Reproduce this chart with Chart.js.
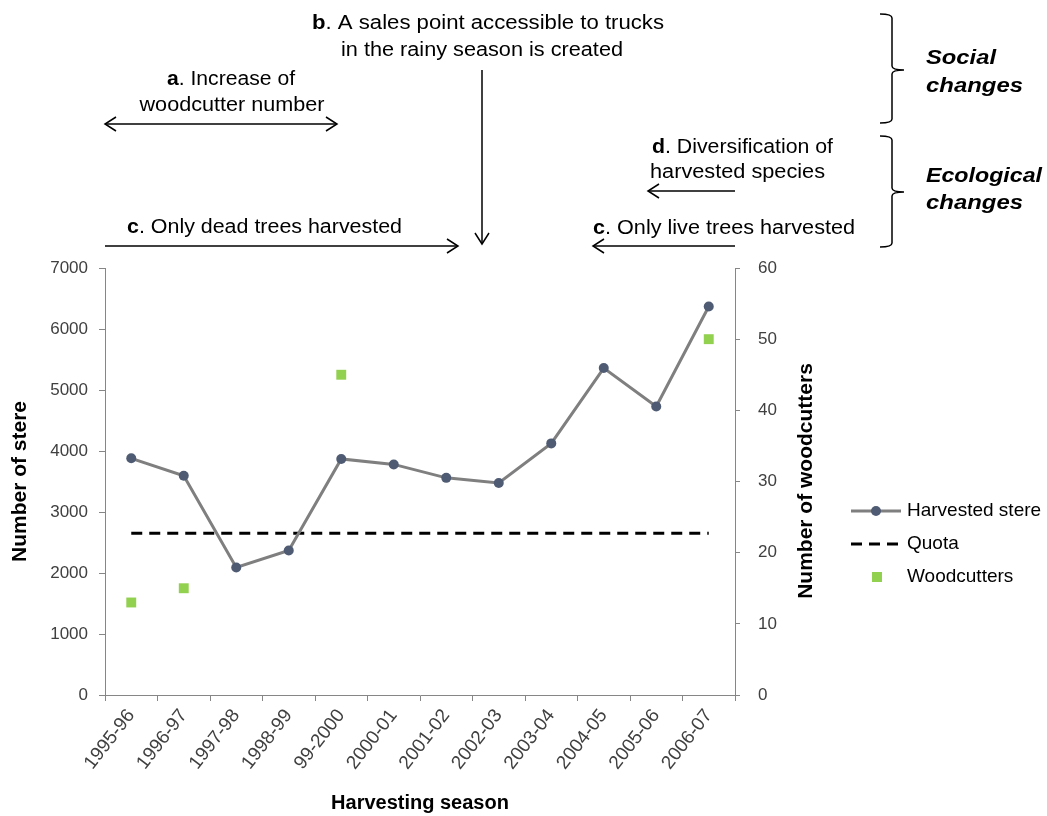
<!DOCTYPE html>
<html>
<head>
<meta charset="utf-8">
<script src="https://cdn.jsdelivr.net/npm/chart.js@4"></script>
<style>
html,body{margin:0;padding:0;background:#fff;}
#wrap{width:1047px;height:816px;position:relative;}
</style>
</head>
<body>
<div id="wrap"><canvas id="c" width="1047" height="816"></canvas></div>
<script>
const seasons = ['1995-96','1996-97','1997-98','1998-99','99-2000','2000-01','2001-02','2002-03','2003-04','2004-05','2005-06','2006-07'];
const harvestedStere = [3880, 3595, 2090, 2370, 3870, 3780, 3560, 3475, 4125, 5360, 4730, 6370];
const quota = [2650, 2650, 2650, 2650, 2650, 2650, 2650, 2650, 2650, 2650, 2650, 2650];
const woodcutters = [13, 15, null, null, 45, null, null, null, null, null, null, 50];
const stereTicks = [0, 1000, 2000, 3000, 4000, 5000, 6000, 7000];
const woodcutterTicks = [0, 10, 20, 30, 40, 50, 60];

const FONT = "'Liberation Sans', Arial, sans-serif";
const AXIS = '#868686';
const TICK_TXT = '#404040';

function stretchText(ctx, text, x, y, font, targetW, align) {
  ctx.save();
  ctx.font = font;
  const w = ctx.measureText(text).width;
  const sx = targetW ? targetW / w : 1;
  let left = x;
  if (align === 'center') left = x - targetW / 2;
  ctx.translate(left, y);
  ctx.scale(sx, 1);
  ctx.textAlign = 'left';
  ctx.textBaseline = 'middle';
  ctx.fillText(text, 0, 0);
  ctx.restore();
}
function richText(ctx, parts, x, y, size, targetW, align) {
  ctx.save();
  let total = 0;
  const ws = parts.map(p => { ctx.font = (p[1] ? 'bold ' : '') + size + 'px ' + FONT; const w = ctx.measureText(p[0]).width; total += w; return w; });
  const sx = targetW / total;
  let left = align === 'center' ? x - targetW / 2 : x;
  ctx.translate(left, y);
  ctx.scale(sx, 1);
  ctx.textAlign = 'left';
  ctx.textBaseline = 'middle';
  ctx.fillStyle = '#000';
  let cx = 0;
  parts.forEach((p, i) => { ctx.font = (p[1] ? 'bold ' : '') + size + 'px ' + FONT; ctx.fillText(p[0], cx, 0); cx += ws[i]; });
  ctx.restore();
}
function arrowHead(ctx, x, y, dir) {
  const L = 11, H = 7;
  ctx.beginPath();
  if (dir === 'right') { ctx.moveTo(x - L, y - H); ctx.lineTo(x, y); ctx.lineTo(x - L, y + H); }
  if (dir === 'left')  { ctx.moveTo(x + L, y - H); ctx.lineTo(x, y); ctx.lineTo(x + L, y + H); }
  if (dir === 'down')  { ctx.moveTo(x - H, y - L); ctx.lineTo(x, y); ctx.lineTo(x + H, y - L); }
  ctx.stroke();
}
function hLine(ctx, x1, x2, y) { ctx.beginPath(); ctx.moveTo(x1, y); ctx.lineTo(x2, y); ctx.stroke(); }
function brace(ctx, x0, xv, xt, y1, y2, ym) {
  ctx.beginPath();
  ctx.moveTo(x0, y1); ctx.quadraticCurveTo(xv, y1, xv, y1 + 4);
  ctx.lineTo(xv, ym - 4); ctx.quadraticCurveTo(xv, ym, xt, ym);
  ctx.moveTo(xv, ym + 4); ctx.quadraticCurveTo(xv, ym, xt, ym);
  ctx.moveTo(xv, ym + 4); ctx.lineTo(xv, y2 - 4); ctx.quadraticCurveTo(xv, y2, x0, y2);
  ctx.stroke();
}

const annotations = {
  id: 'annotations',
  afterDraw(chart) {
    const ctx = chart.ctx;
    ctx.save();
    ctx.strokeStyle = '#000';
    ctx.fillStyle = '#000';
    ctx.lineWidth = 1.5;
    const S = 20;
    richText(ctx, [['b', true], ['. A sales point accessible to trucks', false]], 488, 23, S, 352, 'center');
    richText(ctx, [['in the rainy season is created', false]], 482, 50, S, 282, 'center');
    ctx.beginPath(); ctx.moveTo(482, 70); ctx.lineTo(482, 244); ctx.stroke();
    arrowHead(ctx, 482, 244, 'down');
    richText(ctx, [['a', true], ['. Increase of', false]], 231, 79, S, 128, 'center');
    richText(ctx, [['woodcutter number', false]], 232, 105, S, 185, 'center');
    hLine(ctx, 105, 337, 124); arrowHead(ctx, 105, 124, 'left'); arrowHead(ctx, 337, 124, 'right');
    richText(ctx, [['c', true], ['. Only dead trees harvested', false]], 127, 227, S, 275, 'left');
    hLine(ctx, 105, 458, 246); arrowHead(ctx, 458, 246, 'right');
    richText(ctx, [['d', true], ['. Diversification of', false]], 652, 147, S, 181, 'left');
    richText(ctx, [['harvested species', false]], 650, 172, S, 175, 'left');
    hLine(ctx, 648, 735, 191); arrowHead(ctx, 648, 191, 'left');
    richText(ctx, [['c', true], ['. Only live trees harvested', false]], 593, 228, S, 262, 'left');
    hLine(ctx, 593, 735, 246); arrowHead(ctx, 593, 246, 'left');
    brace(ctx, 880, 892, 904, 14, 123, 70);
    brace(ctx, 880, 892, 904, 136, 247, 192);
    const bi = 'italic bold 21px ' + FONT;
    stretchText(ctx, 'Social', 926, 58, bi, 70, 'left');
    stretchText(ctx, 'changes', 926, 86, bi, 97, 'left');
    stretchText(ctx, 'Ecological', 926, 176, bi, 116, 'left');
    stretchText(ctx, 'changes', 926, 203, bi, 97, 'left');

    ctx.save();
    ctx.translate(806, 481);
    ctx.rotate(-Math.PI / 2);
    ctx.font = 'bold 21px ' + FONT;
    ctx.textAlign = 'center';
    ctx.textBaseline = 'middle';
    ctx.fillStyle = '#000';
    ctx.fillText('Number of woodcutters', 0, 0);
    ctx.restore();

    const ds = chart.data.datasets;
    ctx.font = '19px ' + FONT;
    ctx.textAlign = 'left';
    ctx.textBaseline = 'middle';
    ctx.strokeStyle = ds[0].borderColor; ctx.lineWidth = ds[0].borderWidth;
    hLine(ctx, 851, 901, 511);
    ctx.fillStyle = ds[0].pointBackgroundColor;
    ctx.beginPath(); ctx.arc(876, 511, ds[0].pointRadius, 0, Math.PI * 2); ctx.fill();
    ctx.fillStyle = '#000';
    ctx.fillText(ds[0].label, 907, 511);
    ctx.strokeStyle = ds[1].borderColor; ctx.lineWidth = ds[1].borderWidth;
    ctx.setLineDash(ds[1].borderDash);
    hLine(ctx, 851, 901, 544);
    ctx.setLineDash([]);
    ctx.fillText(ds[1].label, 907, 544);
    ctx.fillStyle = ds[2].pointBackgroundColor;
    ctx.fillRect(872, 572, 10, 10);
    ctx.fillStyle = '#000';
    ctx.fillText(ds[2].label, 907, 577);
    ctx.restore();
  }
};

new Chart(document.getElementById('c'), {
  type: 'line',
  data: {
    labels: seasons,
    datasets: [
      {
        label: 'Harvested stere',
        data: harvestedStere,
        yAxisID: 'y',
        borderColor: '#7f7f7f',
        borderWidth: 3,
        pointBackgroundColor: '#4f5b73',
        pointBorderColor: '#4f5b73',
        pointBorderWidth: 0,
        pointRadius: 5,
        tension: 0,
        order: 2
      },
      {
        label: 'Quota',
        data: quota,
        yAxisID: 'y',
        borderColor: '#000000',
        borderWidth: 3,
        borderDash: [11, 7],
        pointRadius: 0,
        tension: 0,
        order: 3
      },
      {
        label: 'Woodcutters',
        data: woodcutters,
        yAxisID: 'y1',
        showLine: false,
        pointStyle: 'rect',
        pointRadius: 7,
        pointBackgroundColor: '#92d050',
        pointBorderColor: '#92d050',
        pointBorderWidth: 0,
        order: 1
      }
    ]
  },
  options: {
    responsive: false,
    animation: false,
    devicePixelRatio: 1,
    layout: { padding: { top: 268, right: 222, bottom: 0, left: 0 } },
    plugins: { legend: { display: false }, tooltip: { enabled: false } },
    scales: {
      x: {
        type: 'category',
        offset: true,
        grid: { offset: true, drawOnChartArea: false, tickLength: 6, color: AXIS },
        border: { color: AXIS, width: 1 },
        ticks: { autoSkip: false, minRotation: 52, maxRotation: 52, padding: 4, color: TICK_TXT, font: { family: FONT, size: 19 } },
        title: { display: true, text: 'Harvesting season', color: '#000', font: { family: FONT, size: 20, weight: 'bold' }, padding: { top: 0, bottom: 1 } },
        afterFit(s) { s.height = 121; }
      },
      y: {
        position: 'left',
        min: 0, max: 7000,
        afterBuildTicks(s) { s.ticks = stereTicks.map(v => ({ value: v })); },
        grid: { drawOnChartArea: false, tickLength: 6, color: AXIS },
        border: { color: AXIS, width: 1 },
        ticks: { padding: 11, color: TICK_TXT, font: { family: FONT, size: 17 }, callback: v => String(v) },
        title: { display: true, text: 'Number of stere', color: '#000', font: { family: FONT, size: 21, weight: 'bold' }, padding: { top: 8, bottom: 0 } },
        afterFit(s) { s.width = 105; }
      },
      y1: {
        position: 'right',
        min: 0, max: 60,
        afterBuildTicks(s) { s.ticks = woodcutterTicks.map(v => ({ value: v })); },
        grid: { drawOnChartArea: false, tickLength: 5, color: AXIS },
        border: { color: AXIS, width: 1 },
        ticks: { padding: 18, color: TICK_TXT, font: { family: FONT, size: 17 }, callback: v => String(v) },
        afterFit(s) { s.width = 90; }
      }
    }
  },
  plugins: [annotations]
});
</script>
</body>
</html>
